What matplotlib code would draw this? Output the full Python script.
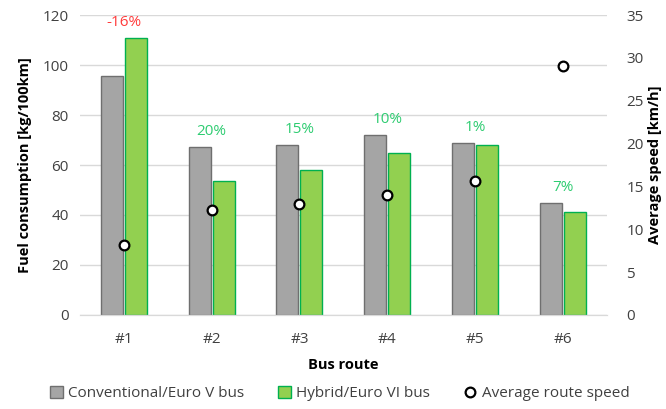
import matplotlib.pyplot as plt
import numpy as np
from matplotlib.lines import Line2D
from matplotlib.patches import Patch

plt.rcParams["font.family"] = ["Open Sans", "DejaVu Sans"]

routes = ["#1", "#2", "#3", "#4", "#5", "#6"]
conventional = [95.6, 67.2, 68.0, 72.0, 68.8, 44.8]
hybrid = [110.8, 53.6, 58.0, 64.8, 68.0, 41.2]
avg_speed = [8.2, 12.3, 12.95, 14.0, 15.6, 29.05]
savings = ["-16%", "20%", "15%", "10%", "1%", "7%"]

grey = "#A5A5A5"
grey_edge = "#6F6F6F"
green = "#92D050"
green_edge = "#00B050"
pct_green = "#2ECC71"
pct_red = "#FF3B3B"
text_col = "#404040"

fig = plt.figure(figsize=(6.66, 4.09), dpi=100)
ax = fig.add_axes([0.120, 0.230, 0.791, 0.733])
ax2 = ax.twinx()

x = np.arange(len(routes))
w = 0.25
off = 0.137
ax.bar(x - off, conventional, w, color=grey, edgecolor=grey_edge, linewidth=1.0, zorder=2)
ax.bar(x + off, hybrid, w, color=green, edgecolor=green_edge, linewidth=1.0, zorder=2)

for i, s in enumerate(savings):
    top = max(conventional[i], hybrid[i])
    col = pct_red if s.startswith("-") else pct_green
    ax.text(x[i], top + 3.2, s, ha="center", va="bottom", color=col, fontsize=11)

ax2.plot(x, avg_speed, linestyle="none", marker="o", markersize=7,
         markerfacecolor="white", markeredgecolor="black", markeredgewidth=1.6, zorder=3)

ax.set_xlim(-0.5, len(routes) - 0.5)
ax.set_ylim(0, 120)
ax.set_yticks(range(0, 121, 20))
ax2.set_ylim(0, 35)
ax2.set_yticks(range(0, 36, 5))
ax.set_xticks(x)
ax.set_xticklabels(routes)

ax.grid(axis="y", color="#D9D9D9", linewidth=1.0, zorder=0)
ax.set_axisbelow(True)
for a in (ax, ax2):
    for side in ("top", "left", "right"):
        a.spines[side].set_visible(False)
    a.spines["bottom"].set_color("#D9D9D9")
    a.tick_params(length=0, labelsize=11, colors=text_col)
ax.tick_params(axis="x", pad=12)
ax.tick_params(axis="y", pad=8)
ax2.tick_params(axis="y", pad=14)

ax.set_xlabel("Bus route", fontsize=10.5, fontweight="bold", color="black", labelpad=8)
ax.set_ylabel("Fuel consumption [kg/100km]", fontsize=10.5, fontweight="bold", color="black", labelpad=8)
ax2.set_ylabel("Average speed [km/h]", fontsize=10.5, fontweight="bold", color="black", labelpad=3)

handles = [
    Patch(facecolor=grey, edgecolor=grey_edge, label="Conventional/Euro V bus"),
    Patch(facecolor=green, edgecolor=green_edge, label="Hybrid/Euro VI bus"),
    Line2D([], [], linestyle="none", marker="o", markersize=7, markerfacecolor="white",
           markeredgecolor="black", markeredgewidth=1.6, label="Average route speed"),
]
fig.legend(handles=handles, loc="lower center", bbox_to_anchor=(0.51, -0.015), ncol=3,
           frameon=False, fontsize=11, handlelength=0.9, handleheight=0.9,
           handletextpad=0.3, columnspacing=2.2, labelcolor=text_col)

fig.savefig("out.png", dpi=100)
